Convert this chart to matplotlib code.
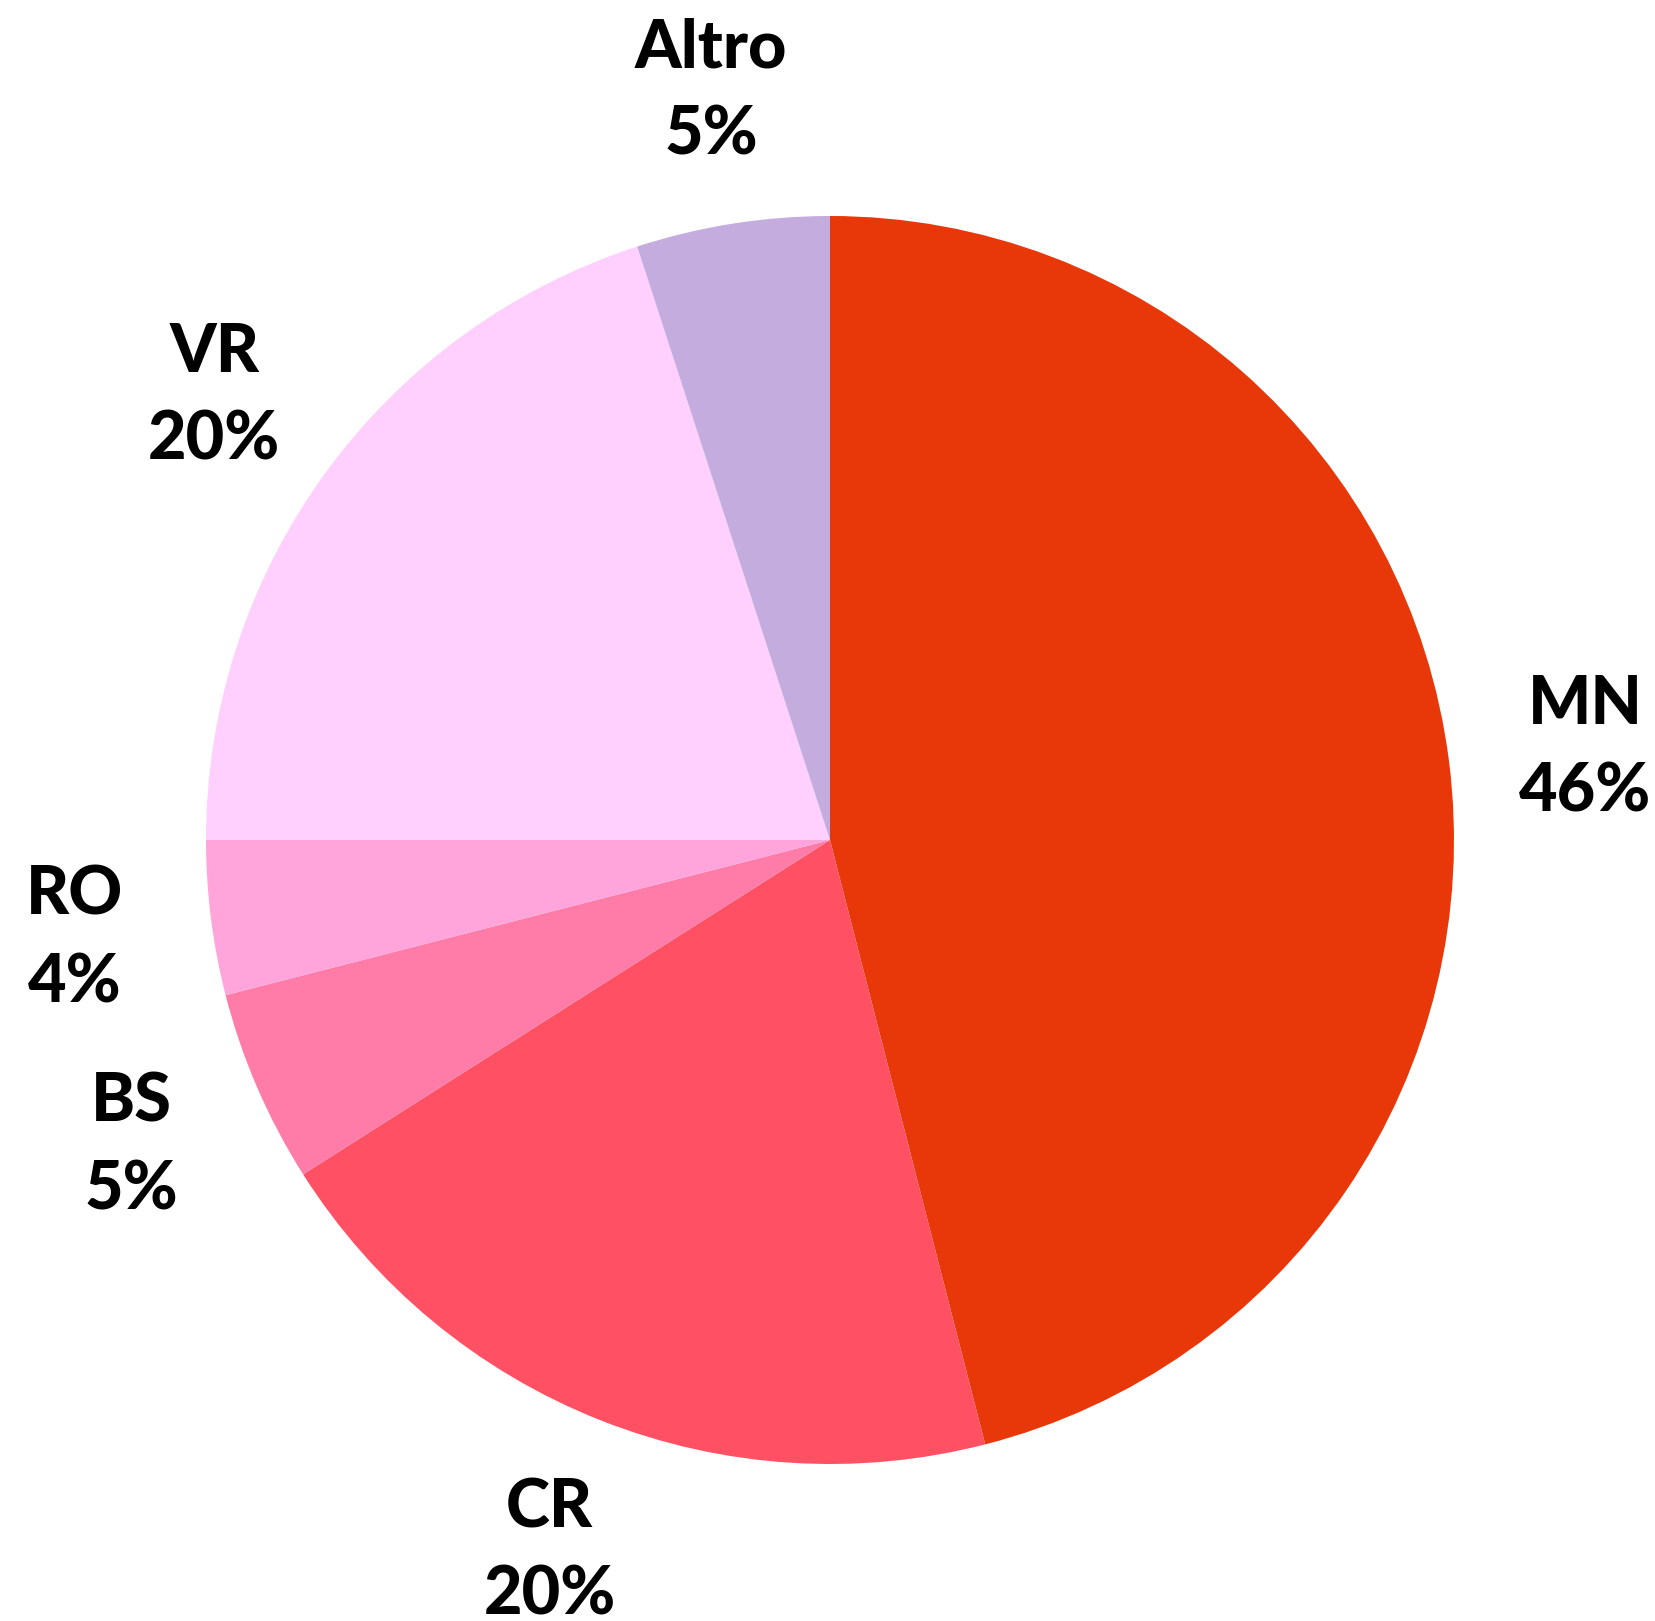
import numpy as np
import matplotlib
matplotlib.use("Agg")
import matplotlib.pyplot as plt

labels = ["MN", "CR", "BS", "RO", "VR", "Altro"]
values = [46, 20, 5, 4, 20, 5]
colors = ["#e8380a", "#ff5064", "#ff7ca8", "#ffa5dc", "#ffcffd", "#c4acdf"]

W, H = 1655, 1621
cx, cy, R = 830, 840, 624

fig = plt.figure(figsize=(W / 100, H / 100), dpi=100)
ax = fig.add_axes([0, 0, 1, 1])

wedges, _ = ax.pie(values, colors=colors, startangle=90, counterclock=False,
                   radius=1, center=(0, 0), frame=True,
                   wedgeprops=dict(linewidth=0))
ax.set_xlim(-cx / R, (W - cx) / R)
ax.set_ylim(-(H - cy) / R, cy / R)
ax.set_aspect("auto")
ax.axis("off")

total = sum(values)
for w, lab, v in zip(wedges, labels, values):
    mid = np.deg2rad((w.theta1 + w.theta2) / 2)
    x, y = 1.22 * np.cos(mid), 1.22 * np.sin(mid) - 4 / R
    ax.text(x, y, f"{lab}\n{round(100 * v / total)}%", ha="center", va="center",
            fontsize=48, fontfamily="Lato", fontweight="black",
            linespacing=1.51, color="black")

fig.savefig("out.png", dpi=100)
